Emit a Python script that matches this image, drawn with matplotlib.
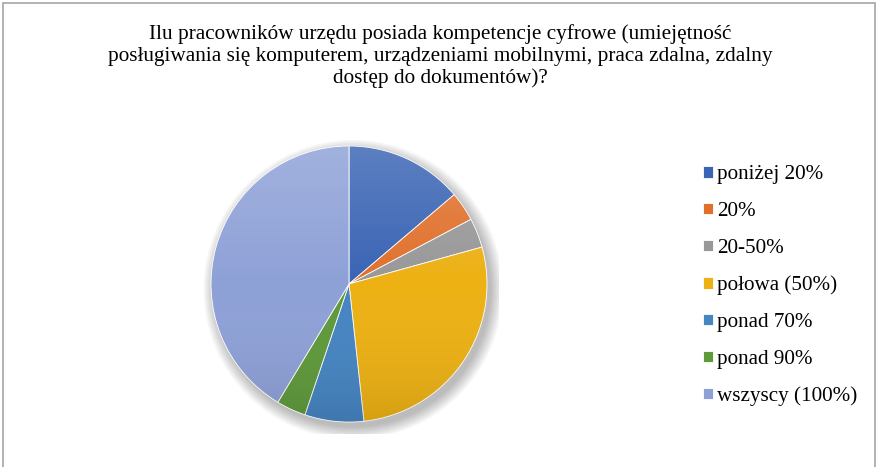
import numpy as np
import matplotlib.pyplot as plt
from matplotlib.patches import Rectangle, Circle
from matplotlib.colors import LinearSegmentedColormap

# Data (number of answers per category)
labels = ['poniżej 20%', '20%', '20-50%', 'połowa (50%)', 'ponad 70%', 'ponad 90%', 'wszyscy (100%)']
counts = [4, 1, 1, 8, 2, 1, 12]
colors = ['#3A64B4', '#E0712D', '#989898', '#EDB114', '#4685C2', '#5F9A3B', '#8EA1D7']
title = ('Ilu pracowników urzędu posiada kompetencje cyfrowe (umiejętność\n'
         'posługiwania się komputerem, urządzeniami mobilnymi, praca zdalna, zdalny\n'
         'dostęp do dokumentów)?')

plt.rcParams['font.family'] = ['Liberation Serif', 'DejaVu Serif']

W, H = 878, 467
fig = plt.figure(figsize=(W / 100, H / 100), dpi=100)

# outer frame of the chart area
fig.patches.append(Rectangle((3 / W, -0.05), 872 / W, 1.05 - 3 / H, transform=fig.transFigure,
                             fill=False, edgecolor='#A6A6A6', linewidth=1.2))

fig.text(440 / W, 1 - 56 / H, title, ha='center', va='center', fontsize=15.3, linespacing=1.18)

# pie axes: centre (349, 284), radius 138 px
cx, cy, r = 349, 284, 138
pad = 150
ax = fig.add_axes([(cx - pad) / W, (H - cy - pad) / H, 2 * pad / W, 2 * pad / H])
ax.axis('off')

# soft shadow under the pie
for i in range(8):
    ax.add_patch(Circle((0.03, -0.04), 1.0 + 0.012 * i, color='black', alpha=0.035, zorder=0, lw=0))

wedges, _ = ax.pie(counts, colors=colors, startangle=90, counterclock=False, radius=1.0,
                   wedgeprops=dict(linewidth=0.6, edgecolor='white'))
for w in wedges:
    w.set_zorder(2)

# light-top / dark-bottom gradient over the pie
grad = np.linspace(0, 1, 256).reshape(-1, 1)
cmap = LinearSegmentedColormap.from_list('g', [(1, 1, 1, 0.18), (1, 1, 1, 0.0), (0, 0, 0, 0.10)])
im = ax.imshow(grad, extent=(-1, 1, -1, 1), cmap=cmap, zorder=3, origin='upper', aspect='auto')
im.set_clip_path(Circle((0, 0), 1.0, transform=ax.transData))
ax.set_xlim(-pad / r, pad / r)
ax.set_ylim(-pad / r, pad / r)
ax.set_aspect('equal')

leg = fig.legend(wedges, labels, loc='upper left', bbox_to_anchor=(695 / W, 1 - 157 / H),
                 frameon=False, fontsize=15.2, handlelength=0.45, handleheight=0.45,
                 handletextpad=0.2, labelspacing=0.84, borderaxespad=0)

fig.savefig('out.png', dpi=100)
